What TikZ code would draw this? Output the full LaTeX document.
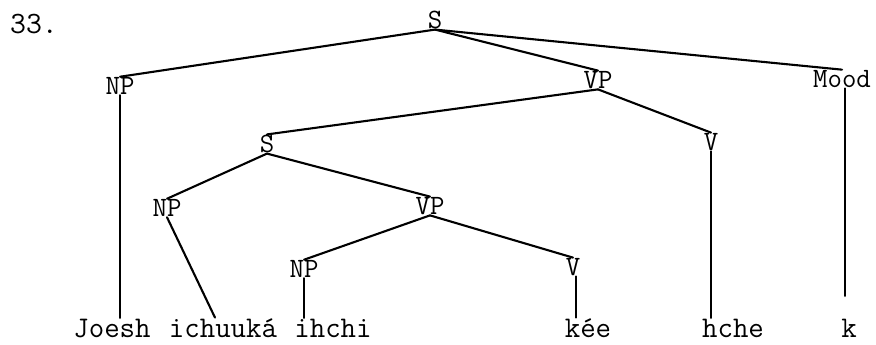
\documentclass[tikz,border=0pt]{standalone}
\usepackage{fontspec}
\usepackage{tikz}
\tikzset{
  cat/.style={inner sep=0.5pt,font=\fontsize{28}{28}\ttfamily\addfontfeatures{FakeBold=1.5}},
  wort/.style={anchor=base,inner sep=0.5pt,font=\fontsize{30}{30}\ttfamily\addfontfeatures{FakeBold=2.5}},
  ast/.style={line width=2.1pt,line cap=round}
}

\begin{document}
\begin{tikzpicture}[x=1pt,y=-1pt]
\useasboundingbox (0,0) rectangle (876,345);
\node[cat,font=\fontsize{31}{31}\ttfamily\addfontfeatures{FakeBold=1.5}] (num) at (34,24) {33.};
% categories
\node[cat] (S1) at (435,20) {S};
\node[cat] (NP1) at (120,86) {NP};
\node[cat] (VP1) at (598,80) {VP};
\node[cat] (Mood) at (842,79) {Mood};
\node[cat] (V1) at (711,142) {V};
\node[cat] (S2) at (267,144) {S};
\node[cat] (NP2) at (167,208) {NP};
\node[cat] (VP2) at (430,206) {VP};
\node[cat] (NP3) at (304,269) {NP};
\node[cat] (V2) at (573,267) {V};
% words
\node[wort] (joesh) at (112,337) {Joesh};
\node[wort] (ichu) at (223,337) {ichuuká};
\node[wort] (ihchi) at (333,337) {ihchi};
\node[wort] (kee) at (588,337) {kée};
\node[wort] (hche) at (733,337) {hche};
\node[wort] (k) at (849,337) {k};
% branches
\draw[ast] (S1.south) -- (NP1.north);
\draw[ast] (S1.south) -- (VP1.north);
\draw[ast] (S1.south) -- (Mood.north);
\draw[ast] (VP1.south) -- (S2.north);
\draw[ast] (VP1.south) -- (V1.north);
\draw[ast] (S2.south) -- (NP2.north);
\draw[ast] (S2.south) -- (VP2.north);
\draw[ast] (VP2.south) -- (NP3.north);
\draw[ast] (VP2.south) -- (V2.north);
\draw[ast] (NP1.south) -- (NP1.south |- joesh.north);
\draw[ast] (NP2.south) -- ([xshift=-8pt]ichu.north);
\draw[ast] (NP3.south) -- (NP3.south |- ihchi.north);
\draw[ast] ([xshift=3pt]V2.south) -- ([xshift=3pt]V2.south |- kee.north);
\draw[ast] (V1.south) -- (V1.south |- hche.north);
\draw[ast,shorten >=22pt] ([xshift=3pt]Mood.south) -- ([xshift=3pt]Mood.south |- k.north);
\end{tikzpicture}
\end{document}
